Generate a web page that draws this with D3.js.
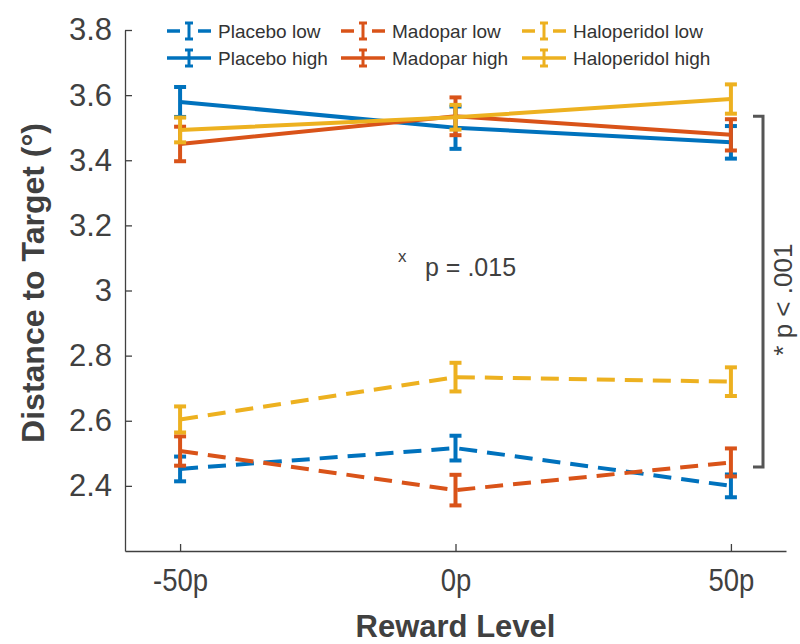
<!DOCTYPE html>
<html>
<head>
<meta charset="utf-8">
<script src="https://cdn.jsdelivr.net/npm/d3@7"></script>
<style>
  html, body { margin: 0; padding: 0; background: #fff; }
  svg { display: block; font-family: "Liberation Sans", Arial, Helvetica, sans-serif; }
</style>
</head>
<body>
<svg id="chart" width="800" height="644"></svg>
<script>
// Reward levels (pence) and their tick labels
const rewardLevels = [-50, 0, 50];
const rewardLabels = ["-50p", "0p", "50p"];
const yTicks = [2.4, 2.6, 2.8, 3.0, 3.2, 3.4, 3.6, 3.8];
const yTickLabels = ["2.4", "2.6", "2.8", "3", "3.2", "3.4", "3.6", "3.8"];

// Mean distance to target (degrees) and error (SEM) per drug / condition
const placeboLow = [2.452, 2.516, 2.400];
const placeboLowErr = [0.038, 0.038, 0.035];
const madoparLow = [2.507, 2.387, 2.472];
const madoparLowErr = [0.045, 0.047, 0.043];
const haloperidolLow = [2.604, 2.734, 2.720];
const haloperidolLowErr = [0.040, 0.044, 0.044];

const placeboHigh = [3.579, 3.500, 3.455];
const placeboHighErr = [0.046, 0.065, 0.050];
const madoparHigh = [3.450, 3.535, 3.478];
const madoparHighErr = [0.053, 0.058, 0.048];
const haloperidolHigh = [3.493, 3.532, 3.588];
const haloperidolHighErr = [0.038, 0.038, 0.045];

const seriesNames = ["Placebo low", "Madopar low", "Haloperidol low",
                     "Placebo high", "Madopar high", "Haloperidol high"];

const blue = "#0072BD", red = "#D95319", yellow = "#EDB120";

const series = [
  { name: seriesNames[0], values: placeboLow, err: placeboLowErr, color: blue, dashed: true },
  { name: seriesNames[1], values: madoparLow, err: madoparLowErr, color: red, dashed: true },
  { name: seriesNames[2], values: haloperidolLow, err: haloperidolLowErr, color: yellow, dashed: true },
  { name: seriesNames[3], values: placeboHigh, err: placeboHighErr, color: blue, dashed: false },
  { name: seriesNames[4], values: madoparHigh, err: madoparHighErr, color: red, dashed: false },
  { name: seriesNames[5], values: haloperidolHigh, err: haloperidolHighErr, color: yellow, dashed: false }
];

const svg = d3.select("#chart");
const axisColor = "#404040";

const x = d3.scaleLinear().domain([-60, 60]).range([125, 786]);
const y = d3.scaleLinear().domain([2.2, 3.8]).range([551, 30]);

// Axes
const xAxis = d3.axisBottom(x).tickValues(rewardLevels)
  .tickFormat((d, i) => rewardLabels[i]).tickSizeInner(-7).tickSizeOuter(0).tickPadding(17);
const yAxis = d3.axisLeft(y).tickValues(yTicks)
  .tickFormat((d, i) => yTickLabels[i]).tickSizeInner(-7).tickSizeOuter(0).tickPadding(13);

const gx = svg.append("g").attr("transform", "translate(0,551)").call(xAxis);
const gy = svg.append("g").attr("transform", "translate(125,0)").call(yAxis);

[gx, gy].forEach(g => {
  g.select(".domain").attr("stroke", axisColor).attr("stroke-width", 1.3);
  g.selectAll(".tick line").attr("stroke", axisColor).attr("stroke-width", 1.3);
  g.selectAll(".tick text").attr("fill", axisColor);
});
gy.selectAll(".tick text").attr("font-size", 31);
gx.selectAll(".tick text").attr("font-size", 32).attr("transform", "scale(0.86,1)");

// Axis titles
svg.append("text")
  .attr("x", x(0)).attr("y", 637)
  .attr("text-anchor", "middle")
  .attr("font-size", 31).attr("font-weight", "bold").attr("fill", axisColor)
  .text("Reward Level");

svg.append("text")
  .attr("transform", "translate(44,283) rotate(-90)")
  .attr("text-anchor", "middle")
  .attr("font-size", 32).attr("font-weight", "bold").attr("fill", axisColor)
  .text("Distance to Target (°)");

// Lines and error bars
const line = d3.line().x((d, i) => x(rewardLevels[i])).y(d => y(d));
const capW = 6;

series.forEach(s => {
  const g = svg.append("g");
  g.append("path")
    .attr("d", line(s.values))
    .attr("fill", "none")
    .attr("stroke", s.color)
    .attr("stroke-width", 4)
    .attr("stroke-dasharray", s.dashed ? "18,10" : null);

  s.values.forEach((v, i) => {
    const cx = x(rewardLevels[i]);
    const top = y(v + s.err[i]), bot = y(v - s.err[i]);
    g.append("line").attr("x1", cx).attr("x2", cx).attr("y1", top).attr("y2", bot)
      .attr("stroke", s.color).attr("stroke-width", 4);
    [top, bot].forEach(yy => {
      g.append("line").attr("x1", cx - capW).attr("x2", cx + capW).attr("y1", yy).attr("y2", yy)
        .attr("stroke", s.color).attr("stroke-width", 4);
    });
  });
});

// Legend
const legendCols = [167, 341, 522];
const legendRows = [31, 58];
const symW = 44;
series.forEach((s, k) => {
  const lx = legendCols[k % 3], ly = legendRows[Math.floor(k / 3)];
  const g = svg.append("g");
  if (s.dashed) {
    g.append("line").attr("x1", lx).attr("x2", lx + 13).attr("y1", ly).attr("y2", ly)
      .attr("stroke", s.color).attr("stroke-width", 3.5);
    g.append("line").attr("x1", lx + symW - 13).attr("x2", lx + symW).attr("y1", ly).attr("y2", ly)
      .attr("stroke", s.color).attr("stroke-width", 3.5);
  } else {
    g.append("line").attr("x1", lx).attr("x2", lx + symW).attr("y1", ly).attr("y2", ly)
      .attr("stroke", s.color).attr("stroke-width", 3.5);
  }
  const mx = lx + symW / 2;
  g.append("line").attr("x1", mx).attr("x2", mx).attr("y1", ly - 8).attr("y2", ly + 8)
    .attr("stroke", s.color).attr("stroke-width", 3);
  [ly - 8, ly + 8].forEach(yy => g.append("line")
    .attr("x1", mx - 4).attr("x2", mx + 4).attr("y1", yy).attr("y2", yy)
    .attr("stroke", s.color).attr("stroke-width", 3));
  g.append("text").attr("x", lx + 51).attr("y", ly).attr("dy", "0.35em")
    .attr("font-size", 19).attr("fill", "#333").text(s.name);
});

// Interaction annotation
svg.append("text").attr("x", 398).attr("y", 262)
  .attr("font-size", 17).attr("fill", axisColor).text("x");
svg.append("text").attr("x", 425).attr("y", 276)
  .attr("font-size", 25).attr("fill", axisColor).text("p = .015");

// Main effect bracket between high and low conditions
const bTop = y(3.535), bBot = y(2.458);
svg.append("path")
  .attr("d", `M753,${bTop}H763V${bBot}H753`)
  .attr("fill", "none").attr("stroke", "#555").attr("stroke-width", 3);
svg.append("text")
  .attr("transform", `translate(792,${(bTop + bBot) / 2 + 8}) rotate(-90)`)
  .attr("text-anchor", "middle")
  .attr("font-size", 26).attr("fill", axisColor).text("* p < .001");
</script>
</body>
</html>
